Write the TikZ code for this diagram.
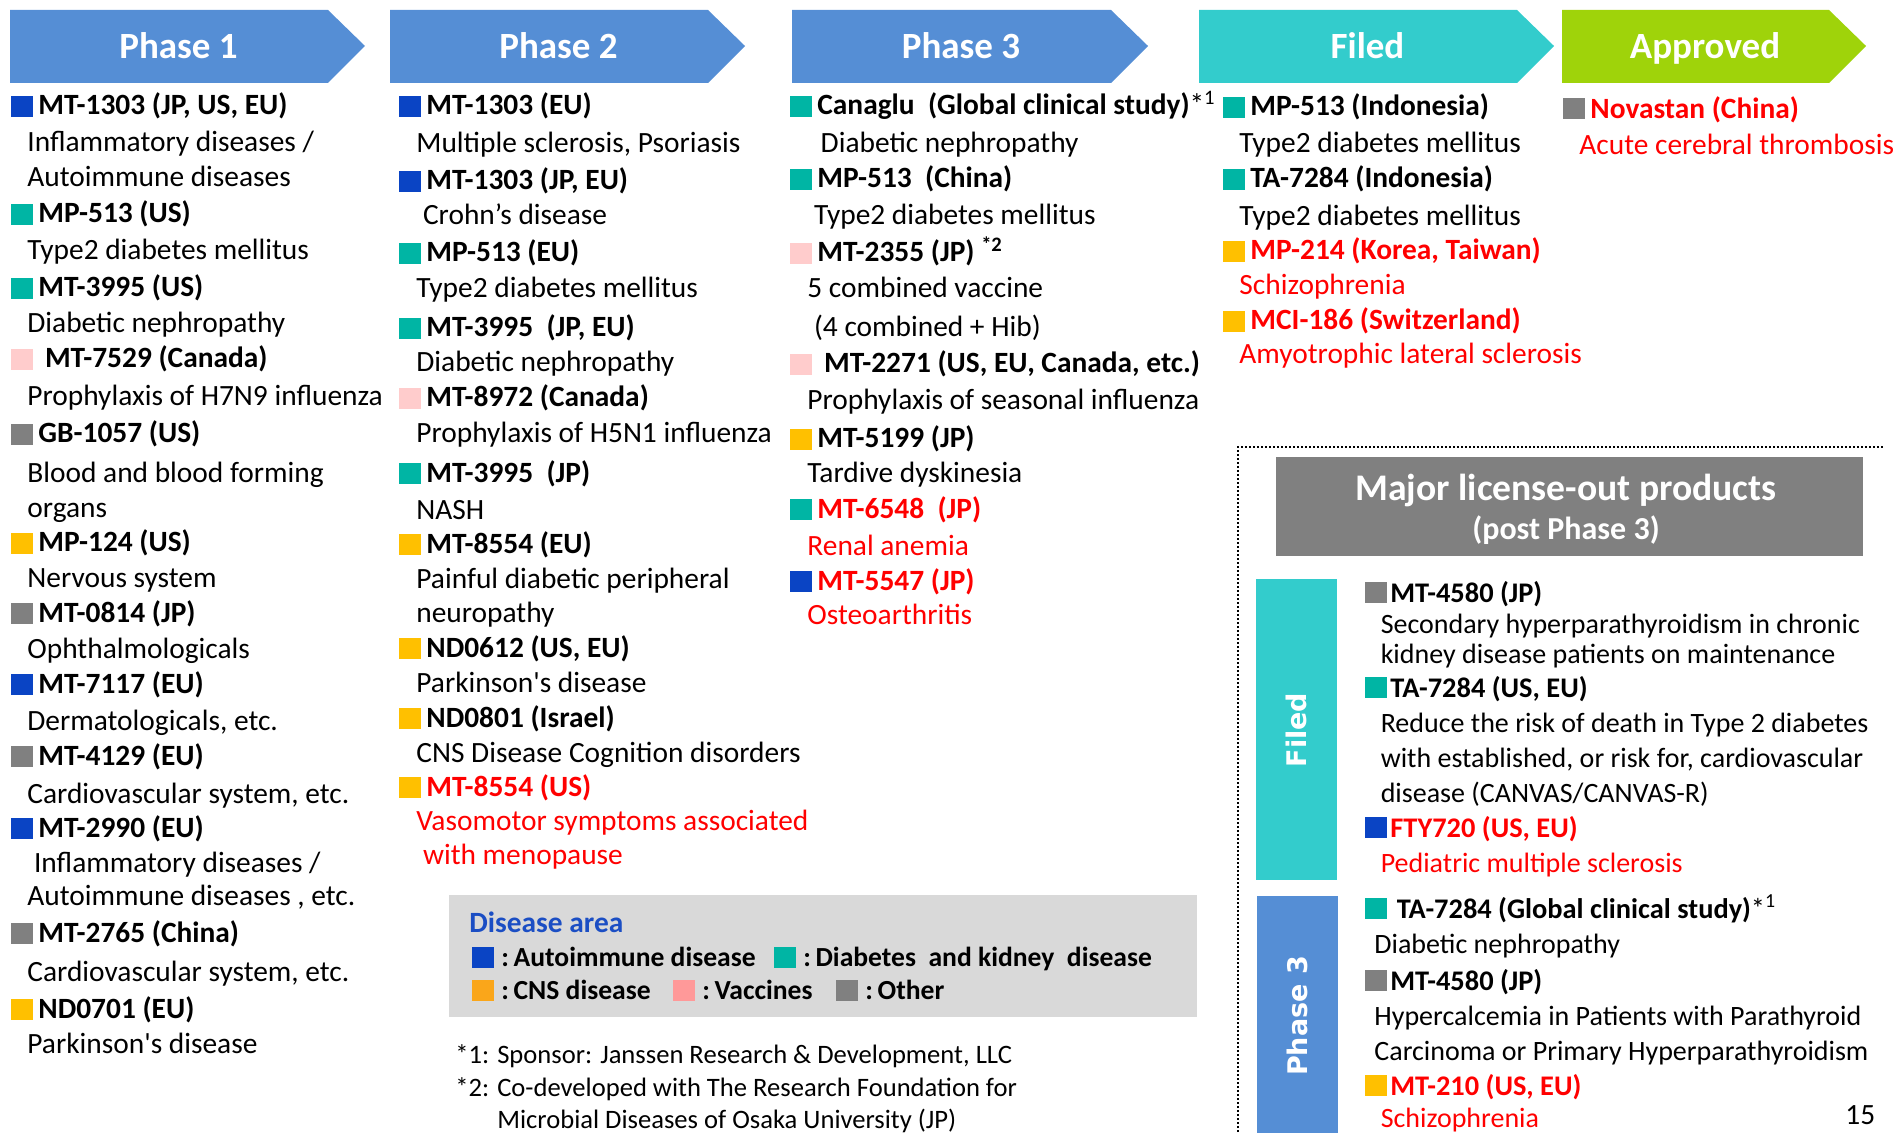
\documentclass[tikz,border=0pt]{standalone}
\usepackage{fontspec}
\setmainfont{Carlito}
\newfontfamily\bandfont{DejaVu Sans}
\definecolor{plAuto}{HTML}{0A44C4}
\definecolor{plDiab}{HTML}{00B5A4}
\definecolor{plCNS}{HTML}{FFC000}
\definecolor{plVacc}{HTML}{FFCCCC}
\definecolor{plOther}{HTML}{808080}
\definecolor{plRed}{HTML}{FF0000}
\definecolor{plPhase}{HTML}{558ED5}
\definecolor{plFiled}{HTML}{33CCCC}
\definecolor{plAppr}{HTML}{9FD30A}
\definecolor{plPanel}{HTML}{D9D9D9}
\definecolor{plHead}{HTML}{1B4EC4}
\definecolor{plLgCNS}{HTML}{FAA61A}
\definecolor{plLgVacc}{HTML}{FF9999}

\begin{document}
\begin{tikzpicture}[
    x=0.5pt, y=0.5pt,
    sq/.style={anchor=south west, inner sep=0pt, minimum width=11pt, minimum height=10.5pt},
    ttl/.style={anchor=base west, inner sep=0pt, font=\fontsize{14.7}{17}\selectfont\bfseries},
    dsc/.style={anchor=base west, inner sep=0pt, font=\fontsize{14.7}{17}\selectfont},
    lttl/.style={ttl, font=\fontsize{14.2}{17}\selectfont\bfseries},
    ldsc/.style={dsc, font=\fontsize{14}{17}\selectfont},
    lgt/.style={ttl, font=\fontsize{13.8}{16}\selectfont\bfseries},
    hd/.style={anchor=base, inner sep=0pt, text=white, font=\fontsize{18.5}{20}\selectfont\bfseries},
    band/.style={inner sep=0pt, minimum width=40.5pt},
    blab/.style={rotate=90, inner sep=0pt, text=white, font=\bandfont\fontsize{13.5}{16}\selectfont\bfseries},
    fn/.style={anchor=base west, inner sep=0pt, font=\fontsize{13.3}{15}\selectfont},
    lodot/.style={line width=1pt, dash pattern=on 1pt off 1pt},
  ]
  \useasboundingbox (0,0) rectangle (1899,-1133);
  % stage headers: left edge / tip, all 73 px high
  \foreach \l/\r/\c/\t [count=\i] in {10/365/plPhase/Phase 1, 390/745/plPhase/Phase 2,
      792/1148/plPhase/Phase 3, 1199/1554/plFiled/Filed, 1562/1866/plAppr/Approved}{
    \fill[\c] (\l,-10) -- (\r-37,-10) -- (\r,-46) -- (\r-37,-83) -- (\l,-83) -- cycle;
    \node[hd] (hd\i) at ({(\l+\r)/2-9},-59) {\t};
  }

  % Phase 1
  \foreach \y/\c/\k/\t [count=\i] in {
      115/plAuto/black/{MT-1303 (JP, US, EU)}, 223/plDiab/black/{MP-513 (US)},
      297/plDiab/black/{MT-3995 (US)}, 368/plVacc/black/{\ MT-7529 (Canada)},
      443/plOther/black/{GB-1057 (US)}, 552/plCNS/black/{MP-124 (US)},
      622/plOther/black/{MT-0814 (JP)}, 693/plAuto/black/{MT-7117 (EU)},
      765/plOther/black/{MT-4129 (EU)}, 837/plAuto/black/{MT-2990 (EU)},
      942/plOther/black/{MT-2765 (China)}, 1018/plCNS/black/{ND0701 (EU)}}{
    \node[sq, fill=\c] (p1s\i) at (11,-\y-2) {};
    \node[ttl, text=\k] (p1t\i) at (38,-\y) {\t};
  }
  \foreach \y/\k/\t [count=\i] in {
      152/black/{Inflammatory diseases /}, 187/black/{Autoimmune diseases},
      260/black/{Type2 diabetes mellitus}, 333/black/{Diabetic nephropathy},
      406/black/{Prophylaxis of H7N9 influenza}, 482/black/{Blood and blood forming},
      517/black/{organs}, 587/black/{Nervous system}, 658/black/{Ophthalmologicals},
      730/black/{Dermatologicals, etc.}, 803/black/{Cardiovascular system, etc.},
      872/black/{\ Inflammatory diseases /}, 905/black/{Autoimmune diseases , etc.},
      981/black/{Cardiovascular system, etc.}, 1053/black/{Parkinson\textquotesingle s disease}}
    \node[dsc, text=\k] (p1d\i) at (27,-\y) {\t};

  % Phase 2
  \foreach \y/\c/\k/\t [count=\i] in {
      115/plAuto/black/{MT-1303 (EU)}, 190/plAuto/black/{MT-1303 (JP, EU)},
      262/plDiab/black/{MP-513 (EU)}, 337/plDiab/black/{MT-3995 \ (JP, EU)},
      407/plVacc/black/{MT-8972 (Canada)}, 482/plDiab/black/{MT-3995 \ (JP)},
      553/plCNS/black/{MT-8554 (EU)}, 657/plCNS/black/{ND0612 (US, EU)},
      727/plCNS/black/{ND0801 (Israel)}, 796/plCNS/plRed/{MT-8554 (US)}}{
    \node[sq, fill=\c] (p2s\i) at (399,-\y-2) {};
    \node[ttl, text=\k] (p2t\i) at (426,-\y) {\t};
  }
  \foreach \y/\k/\t [count=\i] in {
      153/black/{Multiple sclerosis, Psoriasis}, 225/black/{\ Crohn’s disease},
      298/black/{Type2 diabetes mellitus}, 372/black/{Diabetic nephropathy},
      443/black/{Prophylaxis of H5N1 influenza}, 519/black/{NASH},
      588/black/{Painful diabetic peripheral}, 622/black/{neuropathy},
      692/black/{Parkinson\textquotesingle s disease}, 762/black/{CNS Disease Cognition disorders},
      830/plRed/{Vasomotor symptoms associated}, 864/plRed/{\ with menopause}}
    \node[dsc, text=\k] (p2d\i) at (416,-\y) {\t};

  % Phase 3
  \foreach \y/\c/\k/\t [count=\i] in {
      115/plDiab/black/{Canaglu \ (Global clinical study){\mdseries *\textsuperscript{1}}},
      188/plDiab/black/{MP-513 \ (China)}, 262/plVacc/black/{MT-2355 (JP) \textsuperscript{*2}},
      373/plVacc/black/{\ MT-2271 (US, EU, Canada, etc.)}, 448/plCNS/black/{MT-5199 (JP)},
      518/plDiab/plRed/{MT-6548 \ (JP)}, 590/plAuto/plRed/{MT-5547 (JP)}}{
    \node[sq, fill=\c] (p3s\i) at (790,-\y-2) {};
    \node[ttl, text=\k] (p3t\i) at (817,-\y) {\t};
  }
  \foreach \y/\k/\t [count=\i] in {
      153/black/{\ \ Diabetic nephropathy}, 225/black/{\ Type2 diabetes mellitus},
      298/black/{5 combined vaccine}, 337/black/{\ (4 combined + Hib)},
      410/black/{Prophylaxis of seasonal influenza}, 483/black/{Tardive dyskinesia},
      555/plRed/{Renal anemia}, 624/plRed/{Osteoarthritis}}
    \node[dsc, text=\k] (p3d\i) at (807,-\y) {\t};

  % Filed
  \foreach \y/\c/\k/\t [count=\i] in {
      116/plDiab/black/{MP-513 (Indonesia)}, 188/plDiab/black/{TA-7284 (Indonesia)},
      260/plCNS/plRed/{MP-214 (Korea, Taiwan)}, 330/plCNS/plRed/{MCI-186 (Switzerland)}}{
    \node[sq, fill=\c] (fls\i) at (1223,-\y-2) {};
    \node[ttl, text=\k] (flt\i) at (1250,-\y) {\t};
  }
  \foreach \y/\k/\t [count=\i] in {
      153/black/{Type2 diabetes mellitus}, 226/black/{Type2 diabetes mellitus},
      295/plRed/{Schizophrenia}, 364/plRed/{Amyotrophic lateral sclerosis}}
    \node[dsc, text=\k] (fld\i) at (1239,-\y) {\t};

  % Approved
  \node[sq, fill=plOther] (aps) at (1563,-119) {};
  \node[ttl, text=plRed] (apt) at (1590,-119) {Novastan (China)};
  \node[dsc, text=plRed] (apd) at (1579,-155) {Acute cerebral thrombosis};

  % license-out panel
  \draw[lodot] (1238,-1140) |- (1883,-447);
  \node[fill=plOther, inner sep=0pt, minimum width=293.5pt, minimum height=49.5pt] (lo) at (1569.5,-506.5) {};
  \node[hd, font=\fontsize{18.8}{20}\selectfont\bfseries] (lot) at (1566,-501) {Major license-out products};
  \node[hd, font=\fontsize{16}{18}\selectfont\bfseries] (los) at (1566,-539) {(post Phase 3)};
  \node[band, fill=plFiled, minimum height=150.5pt] (bf) at (1296.5,-729.5) {};
  \node[band, fill=plPhase, minimum height=122pt] (bp) at (1297,-1018) {};
  \node[blab] (bfl) at (1296,-730) {Filed};
  \node[blab] (bpl) at (1297,-1016) {Phase 3};
  \foreach \y/\c/\k/\t [count=\i] in {
      602/plOther/black/{MT-4580 (JP)}, 697/plDiab/black/{TA-7284 (US, EU)},
      837/plAuto/plRed/{FTY720 (US, EU)},
      918/plDiab/black/{\ TA-7284 (Global clinical study){\mdseries *\textsuperscript{1}}},
      990/plOther/black/{MT-4580 (JP)}, 1095/plCNS/plRed/{MT-210 (US, EU)}}{
    \node[sq, fill=\c] (los\i) at (1365,-\y-1) {};
    \node[lttl, text=\k] (lot\i) at (1390,-\y) {\t};
  }
  \foreach \y/\k/\t [count=\i] in {
      633/black/{\ Secondary hyperparathyroidism in chronic},
      663/black/{\ kidney disease patients on maintenance},
      732/black/{\ Reduce the risk of death in Type 2 diabetes},
      767/black/{\ with established, or risk for, cardiovascular},
      802/black/{\ disease (CANVAS/CANVAS-R)}, 872/plRed/{\ Pediatric multiple sclerosis},
      953/black/{Diabetic nephropathy}, 1025/black/{Hypercalcemia in Patients with Parathyroid},
      1060/black/{Carcinoma or Primary Hyperparathyroidism}, 1127/plRed/{\ Schizophrenia}}
    \node[ldsc, text=\k] (lod\i) at (1374,-\y) {\t};

  % legend
  \node[fill=plPanel, inner sep=0pt, minimum width=374pt, minimum height=61pt] (lg) at (823,-956) {};
  \node[ttl, text=plHead] (lgh) at (469,-932) {Disease area};
  \foreach \x/\y/\c/\t [count=\i] in {472/966/plAuto/{:\,Autoimmune disease},
      774/966/plDiab/{:\,Diabetes \ and kidney \ disease}, 472/999/plLgCNS/{:\,CNS disease},
      673/999/plLgVacc/{:\,Vaccines}, 836/999/plOther/{:\,Other}}{
    \node[sq, fill=\c] (lgs\i) at (\x,-\y-2) {};
    \node[lgt] (lgt\i) at (\x+29,-\y) {\t};
  }

  \node[fn] (fn1) at (455,-1063) {*1: Sponsor: Janssen Research \& Development, LLC};
  \node[fn] (fn2) at (455,-1096) {*2: Co-developed with The Research Foundation for};
  \node[fn] (fn3) at (497,-1128) {Microbial Diseases of Osaka University (JP)};
  \node[dsc] (pg) at (1845,-1124) {15};
\end{tikzpicture}
\end{document}
